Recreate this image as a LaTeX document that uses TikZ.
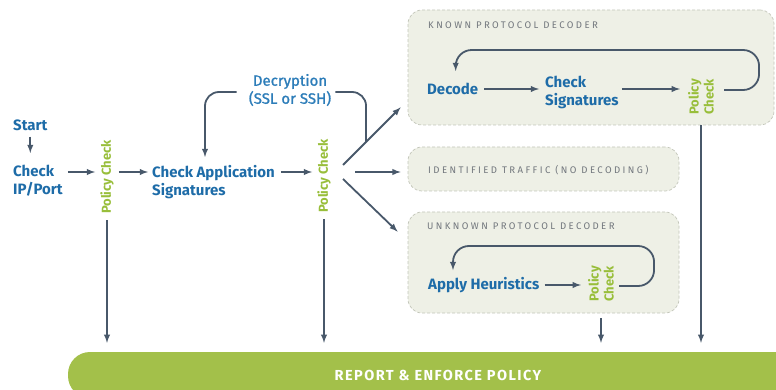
\documentclass[tikz,border=0pt]{standalone}
\usepackage{fontspec}
\setmainfont{Fira Sans}
\newfontfamily\etiq[LetterSpace=25]{Fira Sans}
\newfontfamily\rapp[LetterSpace=10]{Fira Sans}
\newfontfamily\demi[FakeBold=1.2]{Fira Sans}
\usepackage{tikz}
\usepackage{xcolor}
\usetikzlibrary{positioning}
\usetikzlibrary{arrows,calc}

\definecolor{bleu}{RGB}{30,108,168}
\definecolor{bleuclair}{RGB}{45,125,185}
\definecolor{vert}{RGB}{152,190,58}
\definecolor{barre}{RGB}{163,192,74}
\definecolor{fleche}{RGB}{72,88,106}
\definecolor{fond}{RGB}{238,240,230}
\definecolor{bord}{RGB}{195,198,186}
\definecolor{gris}{RGB}{115,120,126}

\begin{document}
\begin{tikzpicture} [
  x = 1pt, y = 1pt,
  auto,
  texte/.style = {text=bleu, font=\bfseries\fontsize{15}{18}\selectfont, inner sep=0pt, align=left},
  pol/.style = {text=vert, font=\bfseries\fontsize{13}{15}\selectfont, inner sep=0pt, align=center, rotate=90},
  boite/.style = {draw=bord, densely dashed, line width=0.7pt, fill=fond, rounded corners=14pt},
  titre/.style = {text=gris, font=\etiq\fontsize{9.6}{11}\selectfont, inner sep=0pt, anchor=west},
  line/.style = {draw=fleche, line width=1.8pt, -latex},
  boucle/.style = {line, rounded corners=16pt},
]
\useasboundingbox (0,0) rectangle (776,-390);

 % les boites
 \node [boite, minimum width=366, minimum height=115] (known) at (591,-67.5) {};
 \node [boite, minimum width=271, minimum height=44] (ident) at (543.5,-169) {};
 \node [boite, minimum width=271, minimum height=101] (unk) at (543.5,-262.5) {};

 \node [titre] (tknown) at (428,-25) {KNOWN PROTOCOL DECODER};
 \node [titre] (tident) at (428,-170) {IDENTIFIED TRAFFIC (NO DECODING)};
 \node [titre] (tunk) at (427,-226) {UNKNOWN PROTOCOL DECODER};

 \node [fill=barre, rounded corners=22pt, minimum width=740, minimum height=46, text=white,
   font=\rapp\bfseries\fontsize{14.5}{17}\selectfont] (rep) at (438,-375) {REPORT \& ENFORCE POLICY};

 % le flux principal
 \node [texte, anchor=west] (st) at (13,-125) {Start};
 \node [texte, anchor=north west] (ip) at (13,-165) {Check\\IP/Port};
 \node [pol] (pc1) at (107,-177) {Policy Check};
 \node [texte, anchor=north west] (cas) at (152,-165) {Check Application\\Signatures};
 \node [pol] (pc2) at (324,-176) {Policy Check};
 \node [texte, text=bleuclair, font=\demi\fontsize{15}{18}\selectfont, align=center] (decr) at (290,-90) {Decryption\\(SSL or SSH)};

 \node [texte, anchor=west] (kdec) at (427,-89) {Decode};
 \node [texte, anchor=north west] (csig) at (545,-76) {Check\\Signatures};
 \node [pol] (kpc) at (701,-97) {Policy\\Check};

 \node [texte, anchor=west] (heur) at (428,-285) {Apply Heuristics};
 \node [pol] (upc) at (601,-284) {Policy\\Check};

 \coordinate (fa) at ($(pc2)+(19,11)$);
 \coordinate (fb) at ($(known.south west)+(-7,18)$);

 \begin{scope}[every path/.style=line]
\path ([yshift=-6pt]st.south) -- ([yshift=12pt]st.south |- ip.north);
\path ($(ip.north east)+(5,-7)$) coordinate (a1) -- ($(a1 -| pc1.north)+(-5,0)$);
\path ($(pc1.south)+(5,5)$) coordinate (a2) -- ($(a2 -| cas.west)+(-4,0)$);
\path ($(cas.north east)+(6,-7)$) coordinate (a3) -- ($(a3 -| pc2.north)+(-5,0)$);

\path (fa) -- (fb);
\path ($(pc2)+(31,4)$) -- ($(ident.west)+(-7,-3)$);
\path ($(pc2)+(19,-3)$) -- ($(unk.north west)+(-10,-20)$);

\path [rounded corners=14pt] ($(decr.west)+(-12,-2)$) -| ($(cas.north west)+(53,8)$);
\path [-, rounded corners=14pt] ($(decr.east)+(4,-2)$) -| ($(fa)!0.4!(fb)$);

\path ($(kdec.east)+(6,0)$) coordinate (a4) -- ($(a4 -| csig.west)+(-6,0)$);
\path ($(csig.east |- kdec.east)+(3,0)$) coordinate (a5) -- ($(a5 -| kpc.north)+(-8,0)$);
\path [boucle] ($(kpc.south)+(10,7)$) -- ++(35,0) -- ++(0,40) -| ($(kdec.north)+(3,12)$);

\path ($(heur.east)+(5,0)$) coordinate (a6) -- ($(a6 -| upc.north)+(-7,0)$);
\path [boucle] ($(upc.south)+(5,-2)$) -- ++(35,0) -- ++(0,40) -| ($(heur.north west)+(25,7)$);

\path ($(pc1.west)+(0,-6)$) -- ($(pc1.west |- rep.north)+(0,9)$);
\path ($(pc2.west)+(0,-6)$) -- ($(pc2.west |- rep.north)+(0,9)$);
\path ($(unk.south -| upc)+(0,-5)$) -- ($(upc |- rep.north)+(0,9)$);
\path (known.south -| kpc) -- ($(kpc |- rep.north)+(0,9)$);
 \end{scope}

\end{tikzpicture}
\end{document}
